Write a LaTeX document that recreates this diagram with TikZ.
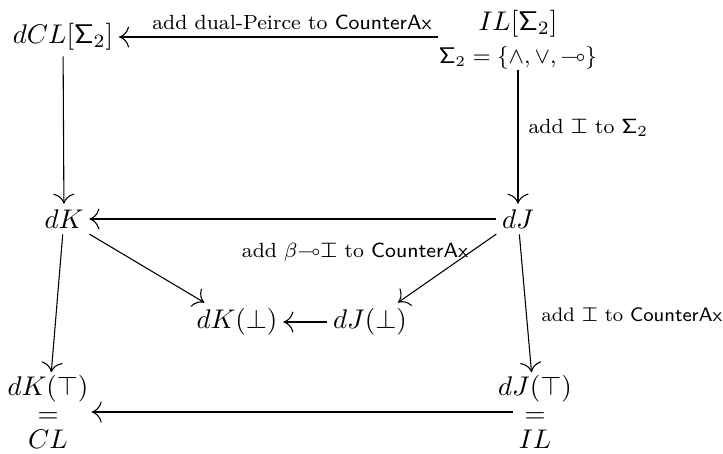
\documentclass[tikz,border=0pt]{standalone}
\usepackage{amssymb}
\usetikzlibrary{arrows.meta}
\newcommand{\Ibm}{\ooalign{$\top$\cr$\bot$\cr}}
\begin{document}
\begin{tikzpicture}[x=0.3704pt,y=-0.3704pt, >={To[scale=1.5]},
  every node/.style={inner sep=2pt},
  lab/.style={font=\footnotesize, inner sep=0pt, transform shape, scale=0.95},
  tri/.style={align=center, inner sep=1pt}]
\useasboundingbox (0,0) rectangle (723,453);
% nodes
\node (dCL) at (63,37) {$dCL[\mathsf{\Sigma}_2]$};
\node (IL) at (518,24) {$IL[\mathsf{\Sigma}_2]$};
\node[inner sep=0pt, transform shape, scale=0.93] (Sig) at (518,58) {\small $\mathsf{\Sigma}_2=\{\wedge,\vee,\multimap\}$};
\node (dK) at (64,219) {$dK$};
\node (dJ) at (518,219) {$dJ$};
\node (dKb) at (237,322) {$dK(\bot)$};
\node (dJb) at (370,322) {$dJ(\bot)$};
\node[tri] (KT) at (48,412) {$dK(\top)$\\[-2.2pt]$=$\\[-2.2pt]$CL$};
\node[tri] (JT) at (535,412) {$dJ(\top)$\\[-2.2pt]$=$\\[-2.2pt]$IL$};
\coordinate (bstart) at ([xshift=6.5pt]JT.west);
% connectors
\draw[->] (Sig.west |- dCL.east) -- (dCL.east);
\draw[->] (Sig.south) -- (dJ.north);
\draw[->] (dCL) -- (dK);
\draw[->] (dJ) -- (dK);
\draw[->] (dK) -- (dKb);
\draw[->] (dJ) -- (dJb);
\draw[->] (dJb) -- (dKb);
\draw[->] (dK) -- (KT);
\draw[->] (dJ) -- (JT);
\draw[->] (bstart) -- (KT.east);
% labels
\node[lab] (l1) at (292,22) {add dual-Peirce to \textsf{CounterAx}};
\node[lab, anchor=west] (l2) at (528,128) {add \Ibm{} to $\mathsf{\Sigma}_2$};
\node[lab] (l3) at (355,252) {add $\beta\mathord{\multimap}$\Ibm{} to \textsf{CounterAx}};
\node[lab, anchor=west, scale=0.95] (l4) at (541,315) {add \Ibm{} to \textsf{CounterAx}};
\end{tikzpicture}
\end{document}
